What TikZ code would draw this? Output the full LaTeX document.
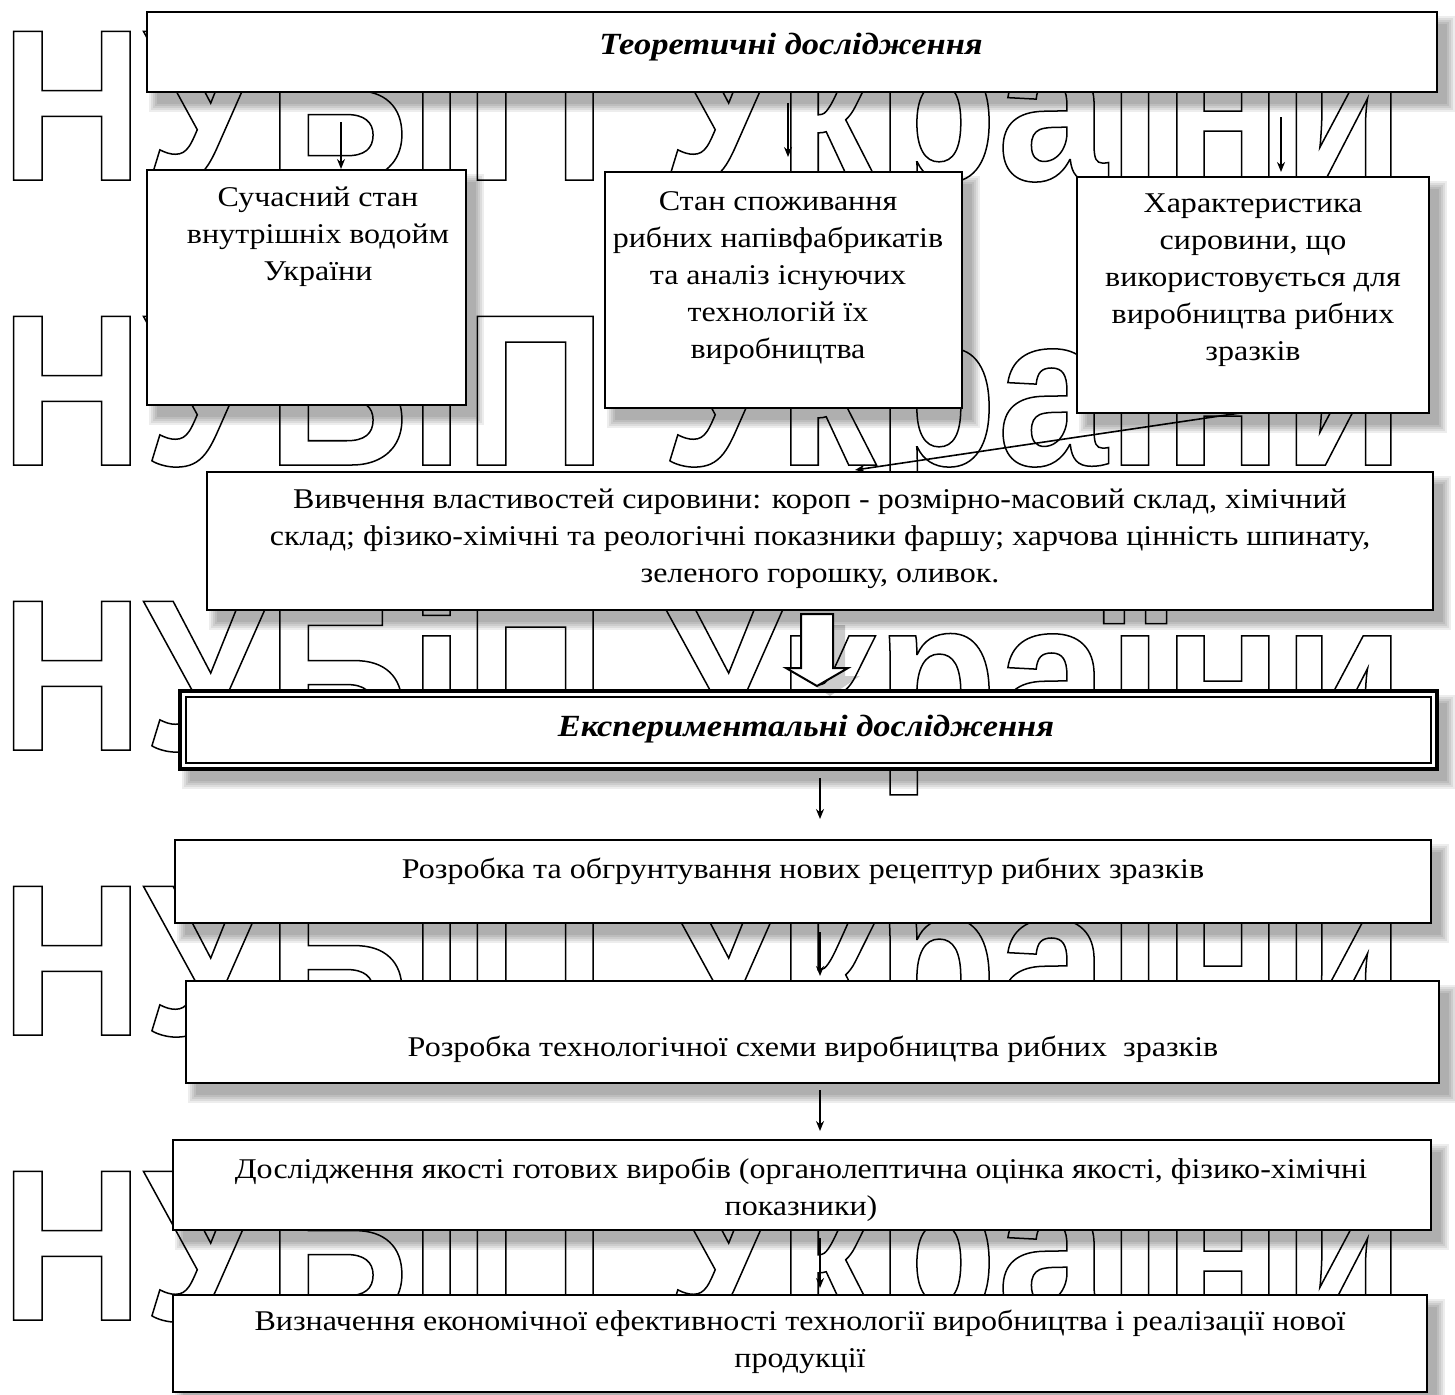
\documentclass[tikz,border=0pt]{standalone}
\usepackage{fontspec}
\setmainfont{Liberation Serif}[FakeStretch=1.12]
\newfontfamily\wmfont{Liberation Sans}[FakeStretch=0.917]
\usetikzlibrary{arrows.meta,fit}
\newcommand\wmtext{\special{pdf:literal direct 1 Tr 0.75 w 0 G}{\wmfont\bfseries\fontsize{108pt}{108pt}\selectfont НУБіП України}\special{pdf:literal direct 0 Tr}}
\newcommand\shad[4]{\foreach \k in {0,1,2,3,4}{\fill[black,opacity=0.07] ({#1+10-\k*2},{#2+12-\k*2}) rectangle ({#3+10+\k*2},{#4+12+\k*2});}}
\begin{document}
\begin{tikzpicture}[x=0.5pt,y=-0.5pt,
  box/.style={draw, line width=1pt, fill=white, inner sep=0pt},
  txt/.style={font=\fontsize{14.3pt}{18.5pt}\selectfont, align=center, inner sep=0pt},
  ttl/.style={font=\fontsize{15.4pt}{18.5pt}\selectfont\bfseries\itshape, inner sep=0pt},
  arr/.style={-{Stealth[length=5pt,width=4pt]}, line width=0.8pt},
  wm/.style={anchor=base west, inner sep=0pt}]
\useasboundingbox (0,0) rectangle (1455,1394);
\fill[white] (0,0) rectangle (1455,1394);
% shadows
\shad{147}{12}{1437}{92}
\shad{147}{170}{466}{405}
\shad{605}{172}{962}{408}
\shad{1077}{177}{1429}{413}
\shad{207}{472}{1433}{610}
\shad{180}{691}{1437}{769}
\shad{175}{840}{1431}{923}
\shad{186}{981}{1439}{1083}
\shad{173}{1140}{1431}{1230}
\shad{173}{1295}{1427}{1392}
% watermark
\foreach \r/\yy in {1/180,2/465,3/750,4/1035,5/1320}{\node[wm] (wm\r) at (0,\yy) {\wmtext};}
% boxes
\node[box, fit={(147,12) (1437,92)}] (t1) {};
\node[box, fit={(147,170) (466,405)}] (b1) {};
\node[box, fit={(605,172) (962,408)}] (b2) {};
\node[box, fit={(1077,177) (1429,413)}] (b3) {};
\node[box, fit={(207,472) (1433,610)}] (b4) {};
\node[box, line width=1.8pt, fit={(180,691) (1437,769)}] (b5) {};
\draw[line width=0.7pt] (186,697) rectangle (1431,763);
\node[box, fit={(175,840) (1431,923)}] (b6) {};
\node[box, fit={(186,981) (1439,1083)}] (b7) {};
\node[box, fit={(173,1140) (1431,1230)}] (b8) {};
\node[box, fit={(173,1295) (1427,1392)}] (b9) {};
% texts
\node[ttl] (t1t) at (791,47) {Теоретичні дослідження};
\node[txt] (b1t) at (318,237) {Сучасний стан\\внутрішніх водойм\\України};
\node[txt] (b2t) at (778,278) {Стан споживання\\рибних напівфабрикатів\\та аналіз існуючих\\технологій їх\\виробництва};
\node[txt] (b3t) at (1253,280) {Характеристика\\сировини, що\\використовується для\\виробництва рибних\\зразків};
\node[txt] (b4t) at (820,539) {Вивчення властивостей сировини: короп - розмірно-масовий склад, хімічний\\склад; фізико-хімічні та реологічні показники фаршу; харчова цінність шпинату,\\зеленого горошку, оливок.};
\node[ttl] (b5t) at (806,729) {Експериментальні дослідження};
\node[txt] (b6t) at (803,871) {Розробка та обгрунтування нових рецептур рибних зразків};
\node[txt] (b7t) at (813,1049) {Розробка технологічної схеми виробництва рибних\ \ зразків};
\node[txt] (b8t) at (801,1190) {Дослідження якості готових виробів (органолептична оцінка якості, фізико-хімічні\\показники)};
\node[txt] (b9t) at (800,1342) {Визначення економічної ефективності технології виробництва і реалізації нової\\продукції};
% arrows from top box
\coordinate (a1s) at (341,122);
\coordinate (a2s) at (788,103);
\coordinate (a3s) at (1281,117);
\draw[arr] (a1s) -- (a1s |- b1.north);
\draw[arr, shorten >=7pt] (a2s) -- (a2s |- b2.north);
\draw[arr, shorten >=2pt] (a3s) -- (a3s |- b3.north);
% diagonal arrow
\coordinate (d1) at (1240,413);
\coordinate (d2) at (855,470);
\draw[arr] (d1) -- (d2);
% block arrow
\fill[black,opacity=0.2] (813,625) -- (845,625) -- (845,676) -- (860,676) -- (830,696) -- (800,676) -- (815,676) -- cycle;
\draw[fill=white, line width=1pt] (801,614) -- (833,614) -- (833,668) -- (848,668) -- (817,686) -- (786,668) -- (801,668) -- cycle;
% vertical arrows
\coordinate (v1) at (820,778);
\coordinate (v2) at (820,932);
\coordinate (v3) at (820,1090);
\coordinate (v4) at (820,1238);
\draw[arr, shorten >=10pt] (v1) -- (v1 |- b6.north);
\draw[arr, shorten >=2pt] (v2) -- (v2 |- b7.north);
\draw[arr, shorten >=4pt] (v3) -- (v3 |- b8.north);
\draw[arr, shorten >=3pt] (v4) -- (v4 |- b9.north);
\end{tikzpicture}
\end{document}
